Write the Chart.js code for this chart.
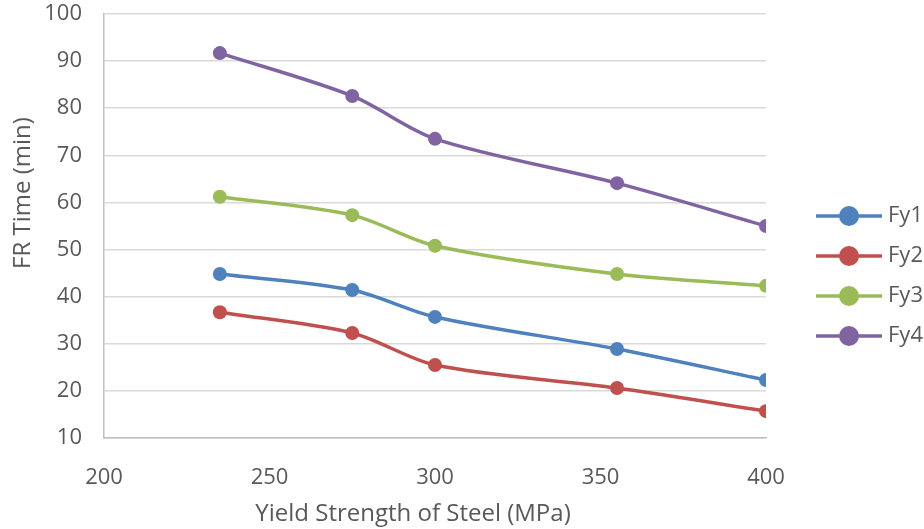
<!DOCTYPE html>
<html>
<head>
<meta charset="utf-8">
<script src="https://cdn.jsdelivr.net/npm/chart.js@4.4.1/dist/chart.umd.min.js"></script>
<style>
  html, body { margin: 0; padding: 0; background: #fff; }
  #wrap { width: 924px; height: 529px; position: relative; }
</style>
</head>
<body>
<div id="wrap"><canvas id="frChart"></canvas></div>
<script>
// yield strength (MPa) on x, fire resistance time (min) on y
const yieldStrength = [235, 275, 300, 355, 400];
const fy1 = [44.8, 41.4, 35.7, 28.9, 22.3];
const fy2 = [36.7, 32.3, 25.5, 20.6, 15.7];
const fy3 = [61.2, 57.3, 50.8, 44.8, 42.3];
const fy4 = [91.7, 82.6, 73.5, 64.1, 55.0];
const seriesNames = ['Fy1', 'Fy2', 'Fy3', 'Fy4'];
const seriesColors = ['#4F81BD', '#C0504D', '#9BBB59', '#8064A2'];
const xTicks = [200, 250, 300, 350, 400];
const yTicks = [10, 20, 30, 40, 50, 60, 70, 80, 90, 100];
const xTitle = 'Yield Strength of Steel (MPa)';
const yTitle = 'FR Time (min)';

const textColor = '#595959';
const fontFamily = '"Open Sans", "Liberation Sans", sans-serif';

function toPoints(values) {
    return values.map((v, i) => ({ x: yieldStrength[i], y: v }));
}

const allValues = [fy1, fy2, fy3, fy4];

// legend drawn like Excel: short line with a dot in the middle
const lineLegend = {
    id: 'lineLegend',
    afterDraw(chart) {
        const ctx = chart.ctx;
        const area = chart.chartArea;
        const x0 = area.right + 50;
        const lineLen = 66;
        ctx.save();
        chart.data.datasets.forEach((ds, i) => {
            const y = 216 + i * 40;
            ctx.strokeStyle = ds.borderColor;
            ctx.lineWidth = 3.5;
            ctx.beginPath();
            ctx.moveTo(x0, y);
            ctx.lineTo(x0 + lineLen, y);
            ctx.stroke();
            ctx.fillStyle = ds.borderColor;
            ctx.beginPath();
            ctx.arc(x0 + lineLen / 2, y, 10, 0, Math.PI * 2);
            ctx.fill();
            ctx.fillStyle = textColor;
            ctx.font = '22px ' + fontFamily;
            ctx.textBaseline = 'middle';
            ctx.textAlign = 'left';
            ctx.fillText(ds.label, x0 + lineLen + 6, y);
        });
        ctx.restore();
    }
};

// axis titles sit a bit off-centre in the original, so place them by hand
const axisTitles = {
    id: 'axisTitles',
    afterDraw(chart) {
        const ctx = chart.ctx;
        const area = chart.chartArea;
        ctx.save();
        ctx.fillStyle = textColor;
        ctx.font = '24px ' + fontFamily;
        ctx.textAlign = 'center';
        ctx.textBaseline = 'middle';
        ctx.fillText(xTitle, (area.left + area.right) / 2 - 22, 514);
        ctx.translate(23, (area.top + area.bottom) / 2 - 33);
        ctx.rotate(-Math.PI / 2);
        ctx.fillText(yTitle, 0, 0);
        ctx.restore();
    }
};

new Chart(document.getElementById('frChart'), {
    type: 'line',
    data: {
        datasets: seriesNames.map((name, i) => ({
            label: name,
            data: toPoints(allValues[i]),
            borderColor: seriesColors[i],
            backgroundColor: seriesColors[i],
            borderWidth: 3.5,
            pointRadius: 7,
            pointHoverRadius: 7,
            pointBorderWidth: 0,
            tension: 0.3,
            fill: false
        }))
    },
    options: {
        responsive: true,
        maintainAspectRatio: false,
        animation: false,
        layout: { padding: { top: 14, right: 158, left: 0, bottom: 0 } },
        plugins: {
            legend: { display: false },
            tooltip: { enabled: false }
        },
        scales: {
            x: {
                type: 'linear',
                min: 200,
                max: 400,
                afterBuildTicks: (scale) => { scale.ticks = xTicks.map(v => ({ value: v })); },
                afterFit: (scale) => {
                    scale.height = 91;
                    scale.paddingLeft = 0;
                    scale.paddingRight = 0;
                },
                grid: { display: false, drawTicks: false },
                border: { display: true, color: '#BFBFBF', width: 1.5 },
                ticks: {
                    padding: 27,
                    color: textColor,
                    font: { family: fontFamily, size: 22 },
                    maxRotation: 0
                },
                title: { display: false }
            },
            y: {
                min: 10,
                max: 100,
                afterBuildTicks: (scale) => { scale.ticks = yTicks.map(v => ({ value: v })); },
                afterFit: (scale) => {
                    scale.width = 104;
                    scale.paddingTop = 0;
                    scale.paddingBottom = 0;
                },
                grid: { color: '#D9D9D9', lineWidth: 1.5, drawTicks: false },
                border: { display: true, color: '#BFBFBF', width: 1.5 },
                ticks: {
                    padding: 22,
                    color: textColor,
                    font: { family: fontFamily, size: 22 }
                },
                title: { display: false }
            }
        }
    },
    plugins: [lineLegend, axisTitles]
});
</script>
</body>
</html>
